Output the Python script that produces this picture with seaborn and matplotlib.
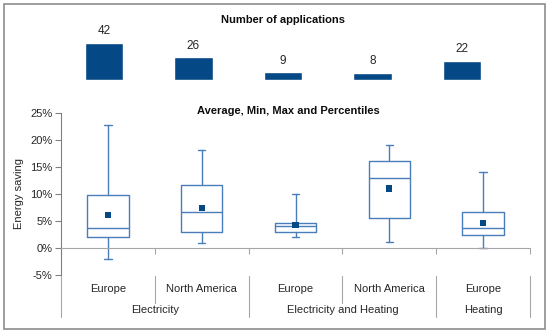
import matplotlib
matplotlib.use('Agg')
import matplotlib.pyplot as plt
import matplotlib.patches as mpatches
from matplotlib.ticker import FuncFormatter
import seaborn as sns
import pandas as pd

# data
regions = ['Europe', 'North America', 'Europe', 'North America', 'Europe']
sectors = ['Electricity', 'Electricity', 'Electricity and Heating',
           'Electricity and Heating', 'Heating']
n_apps = [42, 26, 9, 8, 22]
saving_min = [-2.0, 0.9, 2.0, 1.2, 0.0]          # % energy saving
saving_p25 = [2.0, 2.9, 3.0, 5.6, 2.4]
saving_med = [3.7, 6.6, 4.1, 13.0, 3.7]
saving_p75 = [9.8, 11.6, 4.6, 16.2, 6.7]
saving_max = [22.7, 18.1, 10.0, 19.0, 14.1]
saving_mean = [6.1, 7.4, 4.3, 11.0, 4.7]
yticks = [-5, 0, 5, 10, 15, 20, 25]

BAR_BLUE = '#044985'
BOX_BLUE = '#4a7ebb'
GREY = '#a6a6a6'

sns.set_theme(style='white')
plt.rcParams['font.family'] = ['Liberation Sans', 'DejaVu Sans']

fig = plt.figure(figsize=(5.5, 3.33), dpi=100)
ax_top = fig.add_axes([59 / 550, 1 - 80 / 333, 448 / 550, 44 / 333])
ax = fig.add_axes([61 / 550, 1 - 275 / 333, 469 / 550, 162 / 333])

slots = [f'{r} / {s}' for r, s in zip(regions, sectors)]
df = pd.DataFrame({'slot': slots, 'n': n_apps, 'mean': saving_mean})
pos = list(range(len(slots)))

# number of applications
sns.barplot(data=df, x='slot', y='n', color=BAR_BLUE, saturation=1,
            width=0.43, ax=ax_top)
ax_top.bar_label(ax_top.containers[0], padding=4, fontsize=8.5, color='#262626')
ax_top.set_ylim(0, 50)
ax_top.set_xlim(-0.5, 4.5)
ax_top.axis('off')

# box plots from the read-off statistics
stats = [dict(whislo=lo, q1=q1, med=md, q3=q3, whishi=hi, fliers=[])
         for lo, q1, md, q3, hi in zip(saving_min, saving_p25, saving_med,
                                       saving_p75, saving_max)]
lp = dict(color=BOX_BLUE, lw=1.0)
ax.bxp(stats, positions=pos, widths=0.44, capwidths=0.08, showfliers=False,
       boxprops=lp, whiskerprops=lp, capprops=lp, medianprops=lp,
       manage_ticks=False)
sns.scatterplot(x=pos, y=df['mean'], marker='s', s=20, color=BAR_BLUE,
                edgecolor='none', ax=ax, zorder=4, legend=False)

ax.set_xlim(-0.5, 4.5)
ax.set_ylim(-5, 25)
ax.set_yticks(yticks)
ax.yaxis.set_major_formatter(FuncFormatter(lambda v, p: f'{v:.0f}%'))
ax.set_xticks([b - 0.5 for b in range(len(slots) + 1)])
ax.set_xticklabels([])
ax.set_xlabel('')
ax.set_ylabel('Energy saving', fontsize=8, color='#262626')
ax.yaxis.set_label_coords(-0.079, 0.506)
ax.tick_params(axis='y', left=True, length=4, width=0.8, color='#808080',
               labelsize=8, labelcolor='#262626', pad=2)
ax.tick_params(axis='x', bottom=True, length=4, width=0.8, color=GREY)
for s in ['top', 'right']:
    ax.spines[s].set_visible(False)
ax.spines['bottom'].set_position(('data', 0))
ax.spines['bottom'].set_color(GREY)
ax.spines['left'].set_color('#808080')
ax.spines['left'].set_linewidth(0.8)
ax.spines['bottom'].set_linewidth(0.8)

# two-level category axis
tr = ax.get_xaxis_transform()
for i, r in enumerate(regions):
    ax.text(i, -0.086, r, transform=tr, ha='center', va='center',
            fontsize=8, color='#262626')
groups = {}
for i, s in enumerate(sectors):
    groups.setdefault(s, []).append(i)
bounds_long = set()
for s, idx in groups.items():
    ax.text(sum(idx) / len(idx), -0.216, s, transform=tr, ha='center',
            va='center', fontsize=8, color='#262626')
    bounds_long.update([idx[0] - 0.5, idx[-1] + 0.5])
for b in [b - 0.5 for b in range(len(slots) + 1)]:
    y1 = -0.26 if b in bounds_long else -0.17
    ax.plot([b, b], [-0.006, y1], transform=tr, clip_on=False,
            color=GREY, lw=0.8)

fig.text(283 / 550, 1 - 20 / 333, 'Number of applications', ha='center',
         va='center', fontsize=8, fontweight='bold', color='#0d0d0d')
fig.text(288 / 550, 1 - 111 / 333, 'Average, Min, Max and Percentiles',
         ha='center', va='center', fontsize=8, fontweight='bold',
         color='#0d0d0d')

fig.patches.append(mpatches.Rectangle((4 / 550, 4 / 333), 541 / 550, 325 / 333,
                                      transform=fig.transFigure, fill=False,
                                      ec='#8c8c8c', lw=1.2))

fig.savefig('out.png', dpi=100)
